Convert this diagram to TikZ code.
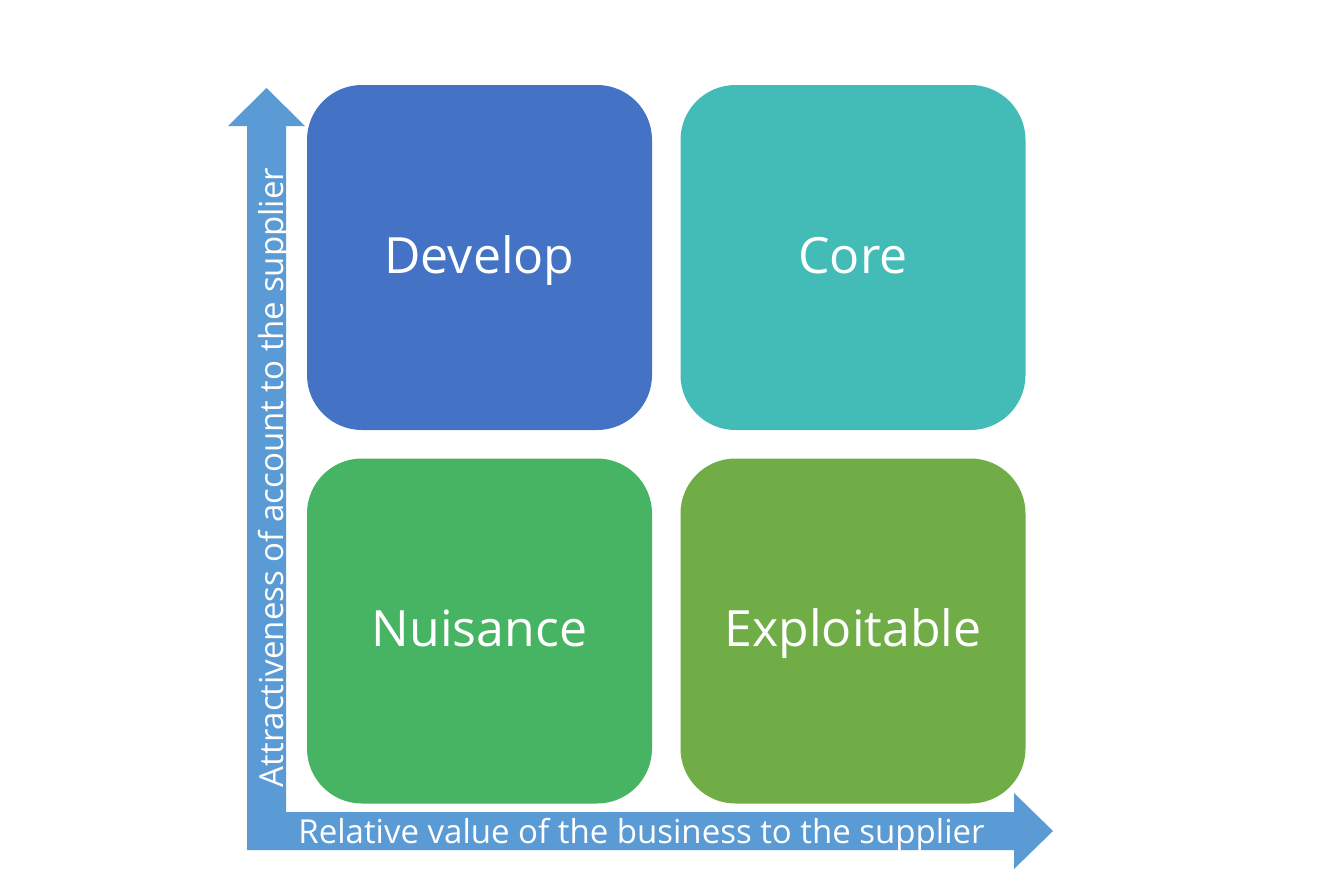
\documentclass[tikz,border=0pt]{standalone}
\usepackage{fontspec}
\setmainfont{Open Sans}
\definecolor{cDevelop}{HTML}{4472C4}
\definecolor{cCore}{HTML}{43BCB8}
\definecolor{cNuisance}{HTML}{47B463}
\definecolor{cExploit}{HTML}{70AD47}
\definecolor{cAxis}{HTML}{5B9BD5}
\begin{document}
\begin{tikzpicture}[x=1pt,y=-1pt,
  quad/.style={rounded corners=55pt, minimum width=345pt, minimum height=345pt, inner sep=0pt},
  quadtext/.style={text=white, anchor=base, inner sep=0pt, font=\fontsize{50}{60}\selectfont},
  axislabel/.style={text=white, anchor=base, font=\fontsize{33}{40}\selectfont, inner sep=0pt}]
\useasboundingbox (0,0) rectangle (1333,889);
\fill[white] (0,0) rectangle (1333,889);
\fill[cAxis] (247,850) -- (247,126) -- (228,126) -- (266.5,88) -- (305,126) -- (286,126) -- (286,812) -- (1014,812) -- (1014,793) -- (1053,831) -- (1014,869) -- (1014,850) -- cycle;
\node[quad, fill=cDevelop] (develop) at (479.5,257.5) {};
\node[quad, fill=cCore] (core) at (853,257.5) {};
\node[quad, fill=cNuisance] (nuisance) at (479.5,631) {};
\node[quad, fill=cExploit] (exploit) at (853,631) {};
\node[quadtext] (developtext) at (479.5,273) {Develop};
\node[quadtext] (coretext) at (853,273) {Core};
\node[quadtext] (nuisancetext) at (479.5,646) {Nuisance};
\node[quadtext] (exploittext) at (853,646) {Exploitable};
\node[axislabel] (xlabel) at (641.5,843) {Relative value of the business to the supplier};
\node[axislabel, rotate=90] (ylabel) at (283,477.5) {Attractiveness of account to the supplier};
\end{tikzpicture}
\end{document}
